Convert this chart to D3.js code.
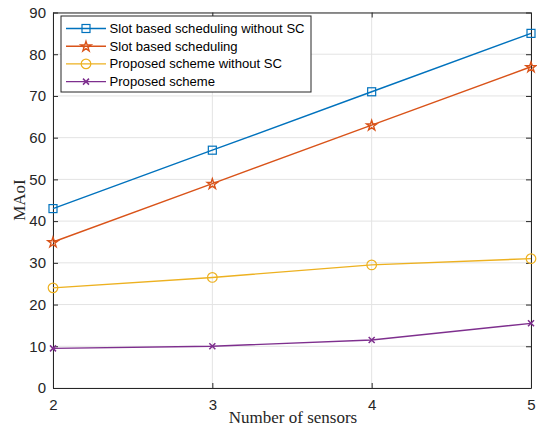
<!DOCTYPE html>
<html>
<head>
<meta charset="utf-8">
<script src="https://cdn.jsdelivr.net/npm/d3@7"></script>
<style>
  html, body { margin: 0; padding: 0; background: #fff; }
  svg { display: block; }
</style>
</head>
<body>
<svg id="chart" width="537" height="430"></svg>
<script>
// Number of sensors on the x axis
const sensors = [2, 3, 4, 5];
const xTicks = [2, 3, 4, 5];
const yTicks = [0, 10, 20, 30, 40, 50, 60, 70, 80, 90];

// MAoI per scheme
const slotNoSC = [43, 57, 71, 85];
const slotSC = [35, 49, 63, 77];
const proposedNoSC = [24, 26.5, 29.5, 31];
const proposed = [9.5, 10, 11.5, 15.5];

const seriesNames = [
  "Slot based scheduling without SC",
  "Slot based scheduling",
  "Proposed scheme without SC",
  "Proposed scheme"
];

const series = [
  { name: seriesNames[0], values: slotNoSC, color: "#0072BD", marker: "square" },
  { name: seriesNames[1], values: slotSC, color: "#D95319", marker: "star" },
  { name: seriesNames[2], values: proposedNoSC, color: "#EDB120", marker: "circle" },
  { name: seriesNames[3], values: proposed, color: "#7E2F8E", marker: "cross" }
];

const svg = d3.select("#chart");
const plotL = 53, plotR = 531, plotT = 12.5, plotB = 388;
const axisColor = "#262626";

const x = d3.scaleLinear().domain([2, 5]).range([plotL, plotR]);
const y = d3.scaleLinear().domain([0, 90]).range([plotB, plotT]);

// grid
const grid = svg.append("g");
grid.selectAll(".gx").data(xTicks).enter().append("line")
  .attr("x1", d => x(d)).attr("x2", d => x(d))
  .attr("y1", plotT).attr("y2", plotB)
  .attr("stroke", "#e3e3e3").attr("stroke-width", 1);
grid.selectAll(".gy").data(yTicks).enter().append("line")
  .attr("x1", plotL).attr("x2", plotR)
  .attr("y1", d => y(d)).attr("y2", d => y(d))
  .attr("stroke", "#e3e3e3").attr("stroke-width", 1);

// axes (ticks inward, box on)
const tickLen = 5;
const font = "'Liberation Sans', Arial, Helvetica, sans-serif";

const xAxis = svg.append("g").attr("transform", `translate(0,${plotB})`)
  .call(d3.axisBottom(x).tickValues(xTicks).tickFormat(d3.format("d"))
    .tickSizeInner(-tickLen).tickSizeOuter(0).tickPadding(11));
const yAxis = svg.append("g").attr("transform", `translate(${plotL},0)`)
  .call(d3.axisLeft(y).tickValues(yTicks).tickFormat(d3.format("d"))
    .tickSizeInner(-tickLen).tickSizeOuter(0).tickPadding(7));
const xTop = svg.append("g").attr("transform", `translate(0,${plotT})`)
  .call(d3.axisTop(x).tickValues(xTicks).tickFormat("")
    .tickSizeInner(-tickLen).tickSizeOuter(0));
const yRight = svg.append("g").attr("transform", `translate(${plotR},0)`)
  .call(d3.axisRight(y).tickValues(yTicks).tickFormat("")
    .tickSizeInner(-tickLen).tickSizeOuter(0));

[xAxis, yAxis, xTop, yRight].forEach(g => {
  g.selectAll("path").attr("stroke", axisColor).attr("stroke-width", 1);
  g.selectAll("line").attr("stroke", axisColor).attr("stroke-width", 1);
  g.selectAll("text").attr("fill", axisColor)
    .style("font-family", font).style("font-size", "15px");
});

// axis labels
svg.append("text")
  .attr("x", 293).attr("y", 423)
  .attr("text-anchor", "middle")
  .style("font-family", "'Liberation Serif', 'Times New Roman', serif")
  .style("font-size", "17px").attr("fill", axisColor)
  .text("Number of sensors");
svg.append("text")
  .attr("transform", `translate(25,200) rotate(-90)`)
  .attr("text-anchor", "middle")
  .style("font-family", "'Liberation Serif', 'Times New Roman', serif")
  .style("font-size", "17px").attr("fill", axisColor)
  .text("MAoI");

// marker drawing
function drawMarker(g, type, cx, cy, color) {
  if (type === "square") {
    g.append("rect").attr("x", cx - 4).attr("y", cy - 4).attr("width", 8).attr("height", 8)
      .attr("fill", "none").attr("stroke", color).attr("stroke-width", 1.2);
  } else if (type === "circle") {
    g.append("circle").attr("cx", cx).attr("cy", cy).attr("r", 4.8)
      .attr("fill", "none").attr("stroke", color).attr("stroke-width", 1.2);
  } else if (type === "star") {
    g.append("path")
      .attr("d", d3.symbol().type(d3.symbolStar).size(32)())
      .attr("transform", `translate(${cx},${cy + 0.5})`)
      .attr("fill", "none").attr("stroke", color).attr("stroke-width", 1.4);
  } else if (type === "cross") {
    const s = 3;
    g.append("path")
      .attr("d", `M${cx - s},${cy - s}L${cx + s},${cy + s}M${cx - s},${cy + s}L${cx + s},${cy - s}`)
      .attr("stroke", color).attr("stroke-width", 1.5);
  }
}

// series lines and markers
const line = d3.line().x((d, i) => x(sensors[i])).y(d => y(d));
series.forEach(s => {
  const g = svg.append("g");
  g.append("path").datum(s.values).attr("d", line)
    .attr("fill", "none").attr("stroke", s.color).attr("stroke-width", 1.4);
  s.values.forEach((v, i) => drawMarker(g, s.marker, x(sensors[i]), y(v), s.color));
});

// legend
const lg = svg.append("g");
lg.append("rect").attr("x", 61).attr("y", 16).attr("width", 250).attr("height", 76)
  .attr("fill", "#fff").attr("stroke", axisColor).attr("stroke-width", 1);
series.forEach((s, i) => {
  const ly = 28.5 + i * 17.7;
  lg.append("line").attr("x1", 66).attr("x2", 106).attr("y1", ly).attr("y2", ly)
    .attr("stroke", s.color).attr("stroke-width", 1.4);
  drawMarker(lg, s.marker, 86, ly, s.color);
  lg.append("text").attr("x", 109.5).attr("y", ly).attr("dy", "0.35em")
    .style("font-family", font).style("font-size", "13.1px").attr("fill", "#000")
    .text(s.name);
});
</script>
</body>
</html>
